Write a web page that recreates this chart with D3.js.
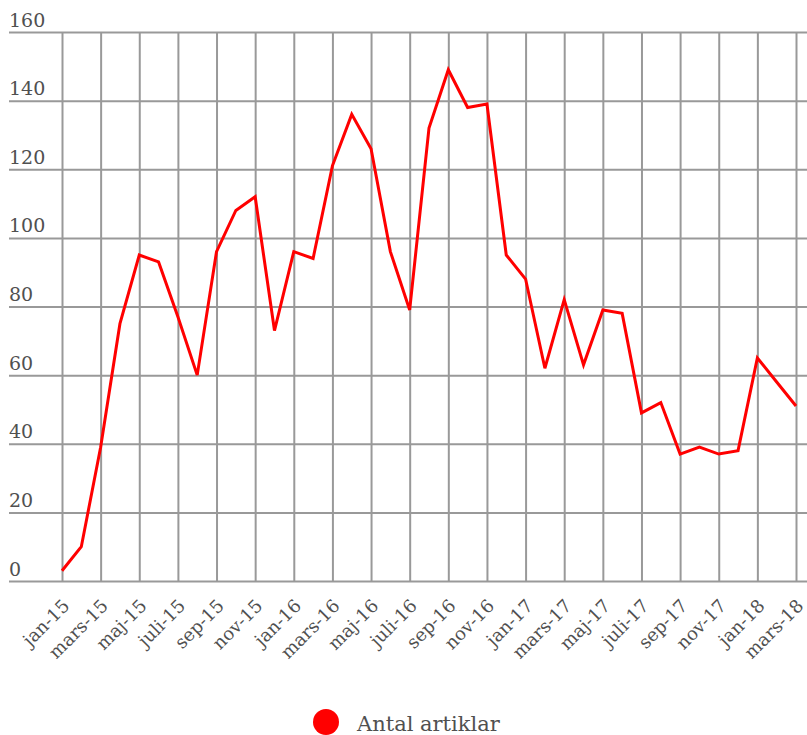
<!DOCTYPE html>
<html>
<head>
<meta charset="utf-8">
<script src="https://cdn.jsdelivr.net/npm/d3@7"></script>
<style>
  body { margin: 0; background: #fff; }
  text { font-family: "DejaVu Serif", serif; fill: #505050; }
</style>
</head>
<body>
<script>
// månader jan-15 .. mars-18
var months = [
  "jan-15", "feb-15", "mars-15", "apr-15", "maj-15", "juni-15", "juli-15", "aug-15", "sep-15", "okt-15", "nov-15", "dec-15",
  "jan-16", "feb-16", "mars-16", "apr-16", "maj-16", "juni-16", "juli-16", "aug-16", "sep-16", "okt-16", "nov-16", "dec-16",
  "jan-17", "feb-17", "mars-17", "apr-17", "maj-17", "juni-17", "juli-17", "aug-17", "sep-17", "okt-17", "nov-17", "dec-17",
  "jan-18", "feb-18", "mars-18"
];
var artiklar = [
  3, 10, 39, 75, 95, 93, 77, 60, 96, 108, 112, 73,
  96, 94, 121, 136, 126, 96, 79, 132, 149, 138, 139, 95,
  88, 62, 82, 63, 79, 78, 49, 52, 37, 39, 37, 38,
  65, 58, 51
];
var yTicks = [0, 20, 40, 60, 80, 100, 120, 140, 160];
var seriesName = "Antal artiklar";

var width = 807, height = 735;
var svg = d3.select("body").append("svg")
    .attr("width", width)
    .attr("height", height);

var x = d3.scalePoint().domain(months).range([62, 796]);
var y = d3.scaleLinear().domain([0, 160]).range([581, 32]);

// horisontella linjer + etiketter
var gy = svg.append("g")
    .attr("transform", "translate(9,0)")
    .call(d3.axisRight(y).tickValues(yTicks).tickSize(width - 9).tickFormat(d3.format("d")));
gy.select(".domain").remove();
gy.selectAll("line").attr("stroke", "#999").attr("stroke-width", 2);
gy.selectAll("text")
    .attr("x", 0)
    .attr("y", -6)
    .attr("dy", null)
    .attr("text-anchor", "start")
    .attr("fill", "#505050")
    .style("font-size", "19px");

// vertikala linjer + månadsetiketter
var gx = svg.append("g")
    .attr("transform", "translate(0," + y(0) + ")")
    .call(d3.axisBottom(x)
        .tickValues(months.filter(function (d, i) { return i % 2 === 0; }))
        .tickSize(-(y(0) - y(160))));
gx.select(".domain").remove();
gx.selectAll("line").attr("stroke", "#999").attr("stroke-width", 2);
gx.selectAll("text")
    .attr("x", 0)
    .attr("y", 0)
    .attr("dy", null)
    .attr("text-anchor", "end")
    .attr("transform", "translate(8,26) rotate(-45)")
    .attr("fill", "#505050")
    .style("font-size", "18px");

// linjen
var line = d3.line()
    .x(function (d, i) { return x(months[i]); })
    .y(function (d) { return y(d); });
svg.append("path")
    .datum(artiklar)
    .attr("fill", "none")
    .attr("stroke", "#ff0000")
    .attr("stroke-width", 3)
    .attr("stroke-linejoin", "miter")
    .attr("d", line);

// legend
var lg = svg.append("g").attr("transform", "translate(326,722)");
lg.append("circle").attr("r", 13).attr("fill", "#ff0000");
lg.append("text")
    .attr("x", 31)
    .attr("y", 9)
    .style("font-size", "21px")
    .text(seriesName);
</script>
</body>
</html>
